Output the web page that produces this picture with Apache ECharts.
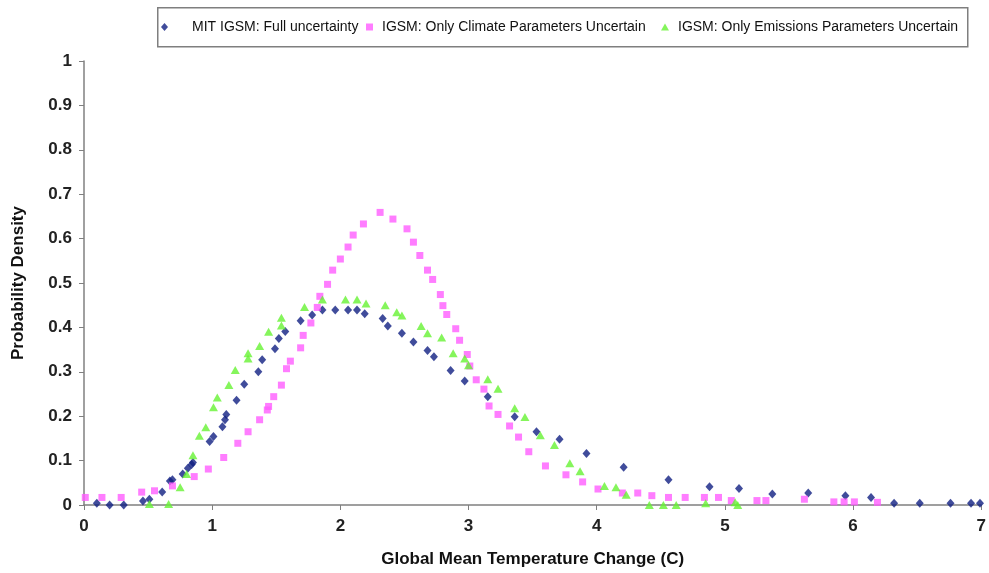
<!DOCTYPE html>
<html>
<head>
<meta charset="utf-8">
<script src="https://cdn.jsdelivr.net/npm/echarts@6/dist/echarts.min.js"></script>
<style>
  html, body { margin: 0; padding: 0; background: #fff; }
  #chart { width: 989px; height: 573px; }
</style>
</head>
<body>
<div id="chart"></div>
<script>
// Series names
const seriesNames = [
  'MIT IGSM: Full uncertainty',
  'IGSM: Only Climate Parameters Uncertain',
  'IGSM: Only Emissions Parameters Uncertain'
];

// [temperature change (C), probability density]
const fullUncertainty = [
  [0.10,0.004],[0.20,0],[0.31,0],[0.46,0.009],[0.51,0.013],[0.61,0.029],[0.67,0.054],[0.69,0.057],
  [0.77,0.07],[0.81,0.083],[0.84,0.091],[0.85,0.096],[0.98,0.143],[1.01,0.154],[1.08,0.176],[1.10,0.192],
  [1.11,0.204],[1.19,0.236],[1.25,0.272],[1.36,0.30],[1.39,0.327],[1.49,0.352],[1.52,0.375],[1.57,0.391],
  [1.69,0.415],[1.78,0.428],[1.86,0.439],[1.96,0.439],[2.06,0.439],[2.13,0.439],[2.19,0.431],[2.33,0.42],
  [2.37,0.403],[2.48,0.387],[2.57,0.367],[2.68,0.348],[2.73,0.334],[2.86,0.303],[2.97,0.279],[3.15,0.244],
  [3.36,0.199],[3.53,0.165],[3.71,0.148],[3.92,0.116],[4.21,0.085],[4.56,0.057],[4.88,0.041],[5.11,0.037],
  [5.37,0.025],[5.65,0.027],[5.94,0.021],[6.14,0.017],[6.32,0.004],[6.52,0.004],[6.76,0.004],[6.92,0.004],
  [6.99,0.004]
];

const climateOnly = [
  [0.01,0.017],[0.14,0.017],[0.29,0.017],[0.45,0.029],[0.55,0.032],[0.69,0.043],[0.86,0.064],[0.97,0.081],
  [1.09,0.107],[1.20,0.139],[1.28,0.165],[1.37,0.192],[1.43,0.214],[1.44,0.222],[1.48,0.244],[1.54,0.27],
  [1.58,0.307],[1.61,0.324],[1.69,0.354],[1.71,0.382],[1.77,0.41],[1.82,0.445],[1.84,0.47],[1.90,0.497],
  [1.94,0.529],[2.00,0.554],[2.06,0.581],[2.10,0.608],[2.18,0.633],[2.31,0.659],[2.41,0.644],[2.52,0.622],
  [2.57,0.592],[2.62,0.562],[2.68,0.529],[2.72,0.508],[2.78,0.474],[2.80,0.449],[2.83,0.429],[2.90,0.397],
  [2.93,0.371],[2.99,0.339],[3.01,0.313],[3.06,0.282],[3.12,0.261],[3.16,0.223],[3.23,0.204],[3.32,0.178],
  [3.39,0.153],[3.47,0.12],[3.60,0.088],[3.76,0.068],[3.89,0.052],[4.01,0.036],[4.20,0.027],[4.32,0.027],
  [4.43,0.021],[4.56,0.017],[4.69,0.017],[4.84,0.017],[4.95,0.017],[5.05,0.01],[5.25,0.01],[5.32,0.01],
  [5.62,0.013],[5.85,0.007],[5.93,0.007],[6.01,0.007],[6.19,0.006]
];

const emissionsOnly = [
  [0.51,0.002],[0.66,0.002],[0.75,0.04],[0.80,0.07],[0.85,0.112],[0.90,0.156],[0.95,0.175],[1.01,0.22],
  [1.04,0.242],[1.13,0.27],[1.18,0.304],[1.28,0.33],[1.28,0.342],[1.37,0.358],[1.44,0.39],[1.54,0.404],
  [1.54,0.422],[1.72,0.446],[1.86,0.463],[2.04,0.463],[2.13,0.463],[2.20,0.454],[2.35,0.45],[2.44,0.434],
  [2.48,0.427],[2.63,0.403],[2.68,0.387],[2.79,0.377],[2.88,0.342],[2.97,0.33],[3.00,0.315],[3.15,0.283],
  [3.23,0.262],[3.36,0.218],[3.44,0.198],[3.56,0.157],[3.67,0.135],[3.79,0.094],[3.87,0.076],[4.06,0.043],
  [4.15,0.04],[4.23,0.023],[4.41,0],[4.52,0],[4.62,0],[4.85,0.004],[5.08,0.006],[5.10,0]
];

const colors = ['#101f82', '#ff5cff', '#66f233'];
const icons = ['diamond', 'rect', 'triangle'];
const iconSizes = [[7, 8], [7, 7], [8, 7]];

const chart = echarts.init(document.getElementById('chart'), null, { renderer: 'canvas' });

// One legend per series so each entry can sit at its own spot in the shared box
function legendAt(i, left, gap) {
  return {
    data: [{ name: seriesNames[i], icon: icons[i] }],
    left: left,
    top: 20,
    padding: 0,
    orient: 'horizontal',
    itemWidth: iconSizes[i][0],
    itemHeight: iconSizes[i][1],
    selectedMode: false,
    formatter: name => '{gap|}' + name,
    textStyle: {
      fontFamily: '"Liberation Sans", Arial, sans-serif',
      fontSize: 14,
      color: '#111',
      rich: { gap: { width: gap } }
    }
  };
}

const axisFont = {
  fontFamily: '"Liberation Sans", Arial, sans-serif',
  fontSize: 17,
  fontWeight: 'bold',
  color: '#222'
};

const titleFont = {
  fontFamily: '"Liberation Sans", Arial, sans-serif',
  fontSize: 17,
  fontWeight: 'bold',
  color: '#111'
};

chart.setOption({
  animation: false,
  backgroundColor: '#fff',
  grid: { left: 84, right: 4, top: 61, bottom: 67, containLabel: false },
  graphic: [{
    type: 'rect',
    left: 157, top: 7, z: 0,
    shape: { width: 810, height: 39 },
    style: { fill: '#fff', stroke: '#7f7f7f', lineWidth: 1.5 }
  }],
  legend: [
    legendAt(0, 161, 19),
    legendAt(1, 366, 4),
    legendAt(2, 661, 4)
  ],
  xAxis: {
    type: 'value',
    min: 0, max: 7, interval: 1,
    name: 'Global Mean Temperature Change (C)',
    nameLocation: 'middle',
    nameGap: 46,
    nameTextStyle: titleFont,
    axisLine: { onZero: false, lineStyle: { color: '#808080', width: 1.5 } },
    axisTick: { show: true, inside: false, length: 5, lineStyle: { color: '#808080' } },
    axisLabel: Object.assign({ margin: 13 }, axisFont),
    splitLine: { show: false }
  },
  yAxis: {
    type: 'value',
    min: 0, max: 1, interval: 0.1,
    name: 'Probability Density',
    nameLocation: 'middle',
    nameRotate: 90,
    nameGap: 57,
    nameTextStyle: titleFont,
    axisLine: { show: true, lineStyle: { color: '#808080', width: 1.5 } },
    axisTick: { show: true, inside: false, length: 5, lineStyle: { color: '#808080' } },
    axisLabel: Object.assign({ margin: 12, formatter: v => String(+v.toFixed(1)) }, axisFont),
    splitLine: { show: false }
  },
  series: [
    {
      name: seriesNames[0], type: 'scatter', data: fullUncertainty,
      symbol: 'diamond', symbolSize: [8, 9], clip: false,
      itemStyle: { color: colors[0] }
    },
    {
      name: seriesNames[1], type: 'scatter', data: climateOnly,
      symbol: 'rect', symbolSize: 7, clip: false,
      itemStyle: { color: colors[1] }
    },
    {
      name: seriesNames[2], type: 'scatter', data: emissionsOnly,
      symbol: 'triangle', symbolSize: [9, 8], clip: false,
      itemStyle: { color: colors[2] }
    }
  ]
});
</script>
</body>
</html>
